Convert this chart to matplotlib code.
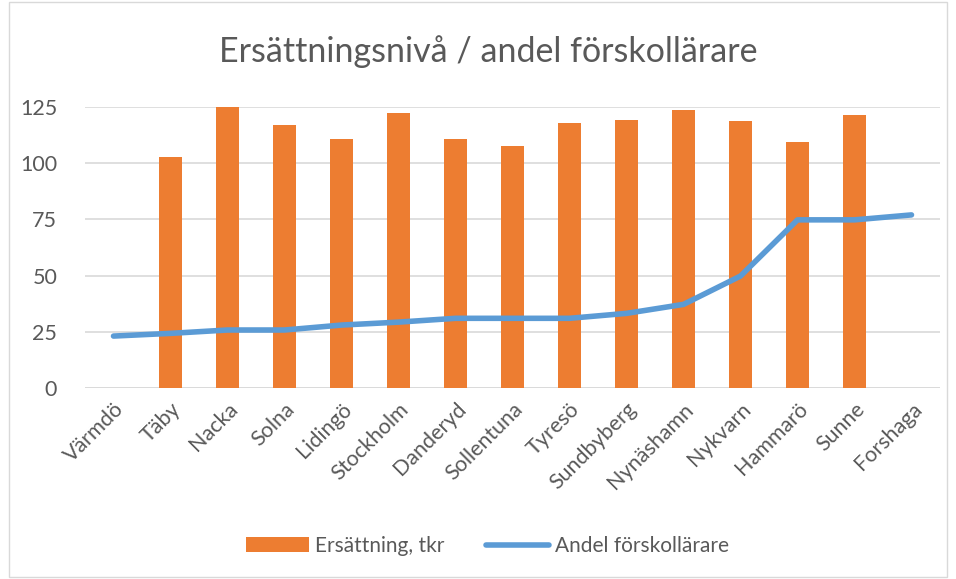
import matplotlib
matplotlib.use("Agg")
from matplotlib import pyplot as plt
from matplotlib.patches import Rectangle
import numpy as np

kommuner = ["Värmdö", "Täby", "Nacka", "Solna", "Lidingö", "Stockholm", "Danderyd",
            "Sollentuna", "Tyresö", "Sundbyberg", "Nynäshamn", "Nykvarn", "Hammarö",
            "Sunne", "Forshaga"]
ersattning = [np.nan, 102.8, 125.0, 117.0, 110.8, 122.3, 110.8, 107.7, 117.9, 119.2,
              123.7, 118.8, 109.4, 121.4, np.nan]
andel = [23.1, 24.3, 25.8, 25.8, 28.0, 29.3, 31.0, 31.0, 31.0, 33.2, 37.2, 49.8,
         74.8, 74.8, 77.0]
yticks = [0, 25, 50, 75, 100, 125]

plt.rcParams["font.family"] = ["Lato", "DejaVu Sans"]
txt = "#595959"

fig = plt.figure(figsize=(9.56, 5.79), dpi=100)
ax = fig.add_axes([85 / 956, 1 - 388 / 579, (940 - 85) / 956, (388 - 107) / 579])

x = np.arange(len(kommuner))
bars = ax.bar(x, ersattning, width=0.4, color="#ED7D31", label="Ersättning, tkr", zorder=2)
(linje,) = ax.plot(x, andel, color="#5B9BD5", lw=4, solid_capstyle="round",
                   label="Andel förskollärare", zorder=3)

ax.set_xlim(-0.5, len(kommuner) - 0.5)
ax.set_ylim(0, 125)
ax.set_yticks(yticks)
ax.set_yticklabels([str(v) for v in yticks], fontsize=15.5, color=txt)
ax.set_xticks(x)
ax.set_xticklabels(kommuner, rotation=45, ha="right", rotation_mode="anchor",
                   fontsize=15.5, color=txt)
ax.tick_params(length=0, pad=8)
ax.tick_params(axis="y", pad=20)
ax.yaxis.grid(True, color="#D9D9D9", lw=1.2, zorder=0)
for s in ax.spines.values():
    s.set_visible(False)
ax.axhline(0, color="#D9D9D9", lw=1.2, zorder=1)

fig.text(488 / 956, 1 - 52 / 579, "Ersättningsnivå / andel förskollärare", ha="center",
         va="center", fontsize=24.5, color=txt)

fig.legend([bars, linje], [bars.get_label(), linje.get_label()], loc="center",
           bbox_to_anchor=(0.51, 1 - 546 / 579), ncol=2, frameon=False,
           fontsize=15, labelcolor=txt, handlelength=3.0, columnspacing=2.0,
           handletextpad=0.3)

fig.patches.append(Rectangle((9 / 956, 2 / 579), 938 / 956, 575 / 579,
                             transform=fig.transFigure, fill=False,
                             edgecolor="#D9D9D9", lw=1))

fig.savefig("out.png", dpi=100)
